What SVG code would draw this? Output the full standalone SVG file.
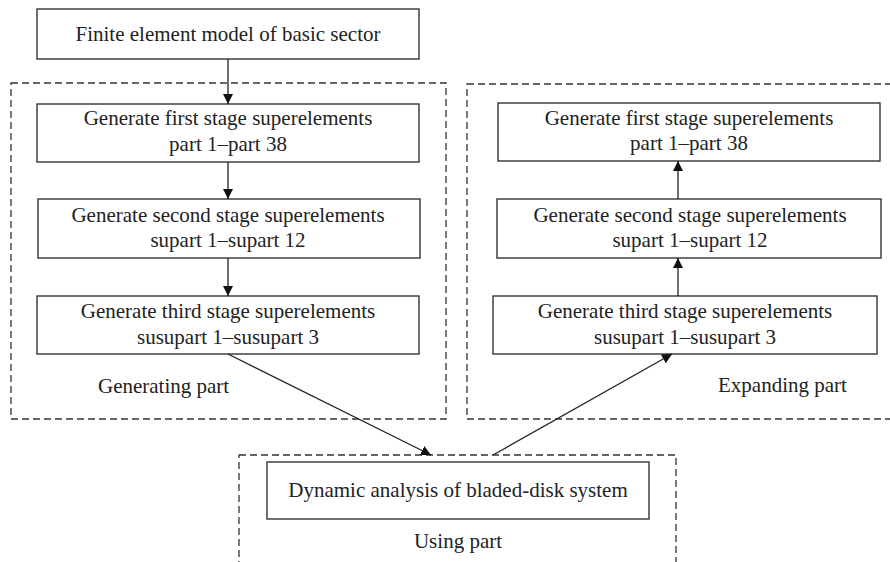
<svg xmlns="http://www.w3.org/2000/svg" width="890" height="562" viewBox="0 0 890 562">
<style>
.box{fill:#fff;stroke:#333;stroke-width:1.4}
.dash{fill:none;stroke:#333;stroke-width:1.3;stroke-dasharray:7,4}
.t{font-family:"Liberation Serif","Times New Roman",serif;font-size:21px;fill:#222;text-anchor:middle}
.lbl{font-family:"Liberation Serif","Times New Roman",serif;font-size:21px;fill:#222}
.c{stroke:#222;stroke-width:1.3;fill:none}
</style>
<defs>
<marker id="ah" viewBox="0 0 10 10" refX="10" refY="5" markerWidth="10" markerHeight="10" markerUnits="userSpaceOnUse" orient="auto">
<path d="M0,0 L10,5 L0,10 Z" fill="#111"/>
</marker>
</defs>
<rect width="890" height="562" fill="#fff"/>
<g id="regions">
<rect class="dash" x="11" y="83" width="435" height="336"/>
<rect class="dash" x="467" y="84" width="430" height="335"/>
<rect class="dash" x="239" y="455" width="437" height="120"/>
</g>
<g id="top">
<rect class="box" x="37" y="9" width="382" height="50"/>
<text class="t" x="228" y="41">Finite element model of basic sector</text>
</g>
<g id="gen1">
<rect class="box" x="37" y="104" width="382" height="58"/>
<text class="t" x="228" y="125">Generate first stage superelements</text>
<text class="t" x="228" y="151">part 1–part 38</text>
</g>
<g id="gen2">
<rect class="box" x="38" y="199" width="382" height="59"/>
<text class="t" x="228" y="222">Generate second stage superelements</text>
<text class="t" x="228" y="247">supart 1–supart 12</text>
</g>
<g id="gen3">
<rect class="box" x="37" y="296" width="382" height="58"/>
<text class="t" x="228" y="318">Generate third stage superelements</text>
<text class="t" x="228" y="344">susupart 1–susupart 3</text>
</g>
<g id="exp1">
<rect class="box" x="498" y="103" width="382" height="58"/>
<text class="t" x="689" y="125">Generate first stage superelements</text>
<text class="t" x="689" y="150">part 1–part 38</text>
</g>
<g id="exp2">
<rect class="box" x="497" y="199" width="384" height="59"/>
<text class="t" x="690" y="222">Generate second stage superelements</text>
<text class="t" x="690" y="247">supart 1–supart 12</text>
</g>
<g id="exp3">
<rect class="box" x="493" y="296" width="384" height="58"/>
<text class="t" x="685" y="318">Generate third stage superelements</text>
<text class="t" x="685" y="344">susupart 1–susupart 3</text>
</g>
<g id="use">
<rect class="box" x="267" y="462" width="382" height="57"/>
<text class="t" x="458" y="497">Dynamic analysis of bladed-disk system</text>
</g>
<g id="labels">
<text class="lbl" x="98" y="393">Generating part</text>
<text class="lbl" x="718" y="392">Expanding part</text>
<text class="t" x="458" y="548">Using part</text>
</g>
<g id="connectors">
<line class="c" x1="228" y1="59" x2="228" y2="104" marker-end="url(#ah)"/>
<line class="c" x1="228" y1="162" x2="228" y2="199" marker-end="url(#ah)"/>
<line class="c" x1="228" y1="258" x2="228" y2="296" marker-end="url(#ah)"/>
<line class="c" x1="678" y1="199" x2="678" y2="161" marker-end="url(#ah)"/>
<line class="c" x1="678" y1="296" x2="678" y2="258" marker-end="url(#ah)"/>
<line class="c" x1="228" y1="354" x2="431" y2="455" marker-end="url(#ah)"/>
<line class="c" x1="493" y1="455" x2="672" y2="354" marker-end="url(#ah)"/>
</g>
</svg>
